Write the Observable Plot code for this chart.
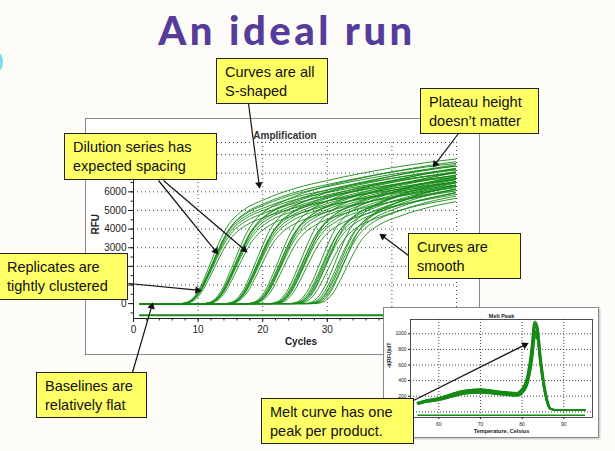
<!DOCTYPE html>
<html><head><meta charset="utf-8">
<script src="https://cdn.jsdelivr.net/npm/d3@7"></script>
<script src="https://cdn.jsdelivr.net/npm/@observablehq/plot@0.6"></script>
<style>
html,body{margin:0;padding:0;background:#fdfcf8;}
#page{position:relative;width:615px;height:451px;overflow:hidden;background:#fdfcf8;}
#title{position:absolute;left:0;width:574px;top:10px;text-align:center;font-family:Lato,"Open Sans",sans-serif;font-weight:900;font-size:40px;line-height:40px;color:#553c9a;letter-spacing:3.5px;}
#blob{position:absolute;left:-6px;top:53px;width:9px;height:18px;border-radius:50%;background:#7adcf0;}
.win{position:absolute;box-sizing:border-box;border:1px solid #8a8a8a;background:#fff;}
.win svg{display:block;}
#amp{left:85px;top:118px;width:395px;height:237px;z-index:1;}
#melt{left:383px;top:307px;width:216px;height:131px;z-index:2;box-shadow:1px 1px 2px rgba(0,0,0,0.25);}
#arrows{position:absolute;left:0;top:0;z-index:3;}
.box{position:absolute;box-sizing:border-box;background:#ffff66;border:1.5px solid #222;font-family:"Liberation Sans",Arial,sans-serif;font-size:14.5px;line-height:18.5px;padding:4px 0 0 8px;color:#111;white-space:nowrap;z-index:4;}
</style></head>
<body><div id="page">
<div id="blob"></div>
<div id="title">An ideal run</div>
<div class="win" id="amp"></div>
<div class="win" id="melt"></div>
<div id="arrows"></div>
<div class="box" style="left:216px;top:58px;width:112px;height:46px;">Curves are all<br>S-shaped</div>
<div class="box" style="left:420px;top:88px;width:119px;height:46px;">Plateau height<br>doesn’t matter</div>
<div class="box" style="left:64px;top:133px;width:153px;height:47px;">Dilution series has<br>expected spacing</div>
<div class="box" style="left:-2px;top:253px;width:130px;height:47px;">Replicates are<br>tightly clustered</div>
<div class="box" style="left:408px;top:233px;width:113px;height:46px;">Curves are<br>smooth</div>
<div class="box" style="left:36px;top:372px;width:111px;height:46px;">Baselines are<br>relatively flat</div>
<div class="box" style="left:261px;top:398px;width:153px;height:46px;">Melt curve has one<br>peak per product.</div>
</div>
<script>
// ---- Amplification data ----
const shapeOffset = [-6,-5,-4,-3,-2,-1,0,1,2,4,7,12,17,22,27,32,37];
const shapeRFU    = [0,50,250,700,1400,2200,3000,3700,4200,4800,5300,5900,6300,6650,6950,7200,7400];
const groupCt     = [13.3,16.9,20.3,23.8,27.3,30.6,33.1];
const groupSpread = [0.6,0.7,0.8,1.0,1.2,1.6,2.2];
const repShift    = [-0.35,-0.2,-0.05,0.1,0.25,0.4,0.0];
const repScale    = [1.05,0.97,1.0,0.92,1.02,0.88,0.95];
const ntcCycle    = [1,50];
const ntcRFU      = [-630,-630];
const cycleDomain = [0,50];
const rfuDomain   = [-800,8650];
const cycleTicks  = [0,10,20,30,40,50];
const cycleLabels = [0,10,20,30];             // labels left uncovered by the melt inset
const cycleMinor  = d3.range(0,51,2);
const rfuTicks    = [0,1000,2000,3000,4000,5000,6000,7000,8000];
const rfuLabels   = [0,3000,4000,5000,6000];  // labels left uncovered by callouts
const rfuMinor    = d3.range(-500,8501,500);

// ---- Melt data ----
const meltTemp  = [55,57,60,63,65.4,68,70,72,74,76,78.8,80,81.2,82.4,83,83.6,84.4,85.6,86.8,88,89.2,92,95];
const meltValue = [110,140,167,215,251,268,273,265,251,240,230,273,400,786,1085,1042,658,231,38,26,25,25,25];
const meltShift = [-0.2,-0.1,0,0.1,0.2,-0.15,0.05,0.15,-0.05,0.1,0,-0.1];
const meltScale = [1.06,0.94,1.0,0.9,1.03,0.97,1.07,0.88,1.01,0.95,0.92,1.04];
const meltNtcT  = [55,95];
const meltNtcV  = [-45,-45];
const tempDomain = [53.2,96.9];
const dDomain    = [-73,1183];
const tempTicks  = [60,70,80,90];
const dTicks     = [0,200,400,600,800,1000];

// ---- Annotation arrows (page pixels) ----
const arrowX1 = [248,458,158,163,128,408,132,413];
const arrowY1 = [103,133,180,180,283,255,372,400];
const arrowX2 = [259,433,217,246,200,380,152,527];
const arrowY2 = [187,166,253,251,290,234,303,343];

const green = "#168a16";
const fmt = d3.format("d");

// Amplification rows
const ampRows = [];
groupCt.forEach((ct,g) => repShift.forEach((s,r) => {
  const id = g*10 + r;
  ampRows.push({id, cycle: 1, rfu: 0});
  shapeOffset.forEach((o,i) => ampRows.push({id, cycle: ct + s*groupSpread[g] + o, rfu: shapeRFU[i]*repScale[r]}));
}));
const ntcRows = ntcCycle.map((c,i) => ({cycle: c, rfu: ntcRFU[i]}));

const amp = Plot.plot({
  width: 393, height: 235,
  marginLeft: 47, marginRight: 23, marginTop: 23, marginBottom: 36,
  style: {background: "#fff", fontFamily: "'Liberation Sans', Arial, sans-serif", fontSize: "10px", color: "#222"},
  x: {domain: cycleDomain, label: null},
  y: {domain: rfuDomain, label: null},
  marks: [
    Plot.gridX(cycleTicks.slice(1), {stroke: "#333", strokeOpacity: 0.9, strokeDasharray: "1,3"}),
    Plot.gridY(rfuTicks.slice(1).concat([rfuDomain[1]]), {stroke: "#333", strokeOpacity: 0.9, strokeDasharray: "1,3"}),
    Plot.line(ntcRows, {x: "cycle", y: "rfu", stroke: green, strokeWidth: 2}),
    Plot.line(ampRows, {x: "cycle", y: "rfu", z: "id", stroke: green, strokeWidth: 0.9, curve: "monotone-x", clip: true}),
    Plot.ruleX([cycleDomain[0]], {stroke: "#222"}),
    Plot.ruleY([rfuDomain[0]], {stroke: "#222"}),
    Plot.axisX(cycleLabels, {tickSize: 0, tickPadding: 7, fill: "#222", tickFormat: fmt}),
    Plot.axisX(cycleTicks, {tickSize: 4, tickFormat: () => ""}),
    Plot.axisX(cycleMinor, {tickSize: 2.5, tickFormat: () => ""}),
    Plot.axisY(rfuLabels, {tickSize: 0, tickPadding: 7, fill: "#222", tickFormat: fmt}),
    Plot.axisY(rfuTicks, {tickSize: 5, tickFormat: () => ""}),
    Plot.axisY(rfuMinor, {tickSize: 2.5, tickFormat: () => ""}),
    Plot.text(["RFU"], {frameAnchor: "left", dx: -38, dy: 4, rotate: -90, fontWeight: "bold", fontSize: 10}),
    Plot.text(["Cycles"], {frameAnchor: "bottom", dy: 26, dx: 6, fontWeight: "bold", fontSize: 10}),
    Plot.text(["Amplification"], {frameAnchor: "top", dy: -11, dx: -10, fontWeight: "bold", fontSize: 10, fill: "#333"})
  ]
});
document.getElementById("amp").appendChild(amp);

// Melt rows
const meltRows = [];
meltShift.forEach((s,r) => meltTemp.forEach((t,i) => meltRows.push({id: r, t: t + s, v: meltValue[i]*meltScale[r]})));
const meltNtc = meltNtcT.map((t,i) => ({t, v: meltNtcV[i]}));

const melt = Plot.plot({
  width: 214, height: 129,
  marginLeft: 26, marginRight: 6, marginTop: 11, marginBottom: 20,
  style: {background: "#fff", fontFamily: "'Liberation Sans', Arial, sans-serif", fontSize: "5px", color: "#222"},
  x: {domain: tempDomain, label: null},
  y: {domain: dDomain, label: null},
  marks: [
    Plot.gridX(tempTicks, {stroke: "#333", strokeOpacity: 0.9, strokeDasharray: "1,2"}),
    Plot.gridY(dTicks, {stroke: "#333", strokeOpacity: 0.9, strokeDasharray: "1,2"}),
    Plot.frame({stroke: "#222", strokeWidth: 0.8}),
    Plot.line(meltNtc, {x: "t", y: "v", stroke: green, strokeWidth: 1.5}),
    Plot.line(meltRows, {x: "t", y: "v", z: "id", stroke: green, strokeWidth: 1.3, curve: "monotone-x"}),
    Plot.axisX(tempTicks, {tickSize: 2, tickPadding: 3, fontSize: 5, tickFormat: fmt}),
    Plot.axisY(dTicks.slice(1), {tickSize: 2, tickPadding: 2, fontSize: 5, tickFormat: fmt}),
    Plot.text(["-d(RFU)/dT"], {frameAnchor: "left", dx: -21, rotate: -90, fontSize: 5, fontWeight: "bold"}),
    Plot.text(["Temperature, Celsius"], {frameAnchor: "bottom", dy: 15, fontSize: 5.5, fontWeight: "bold"}),
    Plot.text(["Melt Peak"], {frameAnchor: "top", dy: -5, fontSize: 5.5, fontWeight: "bold"})
  ]
});
document.getElementById("melt").appendChild(melt);

// Arrows overlay
const arrows = arrowX1.map((x1,i) => {
  const dx = arrowX2[i] - x1, dy = arrowY2[i] - arrowY1[i];
  const len = Math.hypot(dx, dy);
  return {x1, y1: arrowY1[i], x2: arrowX2[i], y2: arrowY2[i],
          hx: arrowX2[i] - 3*dx/len, hy: arrowY2[i] - 3*dy/len,
          angle: Math.atan2(dx, -dy) * 180 / Math.PI};
});
const over = Plot.plot({
  width: 615, height: 451, margin: 0,
  style: {background: "transparent", overflow: "visible"},
  x: {domain: [0,615], range: [0,615], axis: null},
  y: {domain: [0,451], range: [0,451], axis: null},
  marks: [
    Plot.link(arrows, {x1: "x1", y1: "y1", x2: "hx", y2: "hy", stroke: "#111", strokeWidth: 1.2}),
    Plot.dot(arrows, {x: "hx", y: "hy", symbol: "triangle", r: 2.8, fill: "#111", stroke: "none", rotate: "angle"})
  ]
});
document.getElementById("arrows").appendChild(over);
</script>
</body></html>
